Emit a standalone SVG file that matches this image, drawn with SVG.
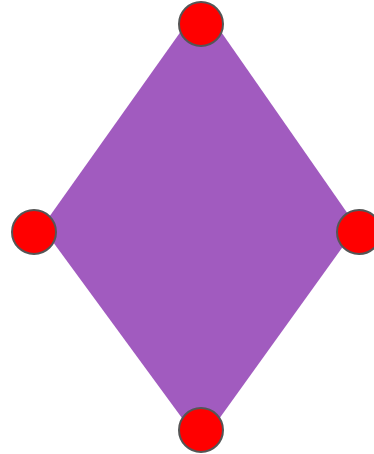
<svg xmlns="http://www.w3.org/2000/svg" width="374" height="454" viewBox="0 0 374 454">
<style>
.v{fill:#ff0000;stroke:#555555;stroke-width:2}
</style>
<rect width="374" height="454" fill="#ffffff"/>
<g id="diamond">
<polygon points="201,3 357,227 201,444 42,227" fill="#a15bbf"/>
</g>
<g id="connectors"></g>
<g id="top"><circle class="v" cx="201" cy="24" r="22"/></g>
<g id="left"><circle class="v" cx="34" cy="232" r="22"/></g>
<g id="right"><circle class="v" cx="359" cy="232" r="22"/></g>
<g id="bottom"><circle class="v" cx="201" cy="430" r="22"/></g>
</svg>
